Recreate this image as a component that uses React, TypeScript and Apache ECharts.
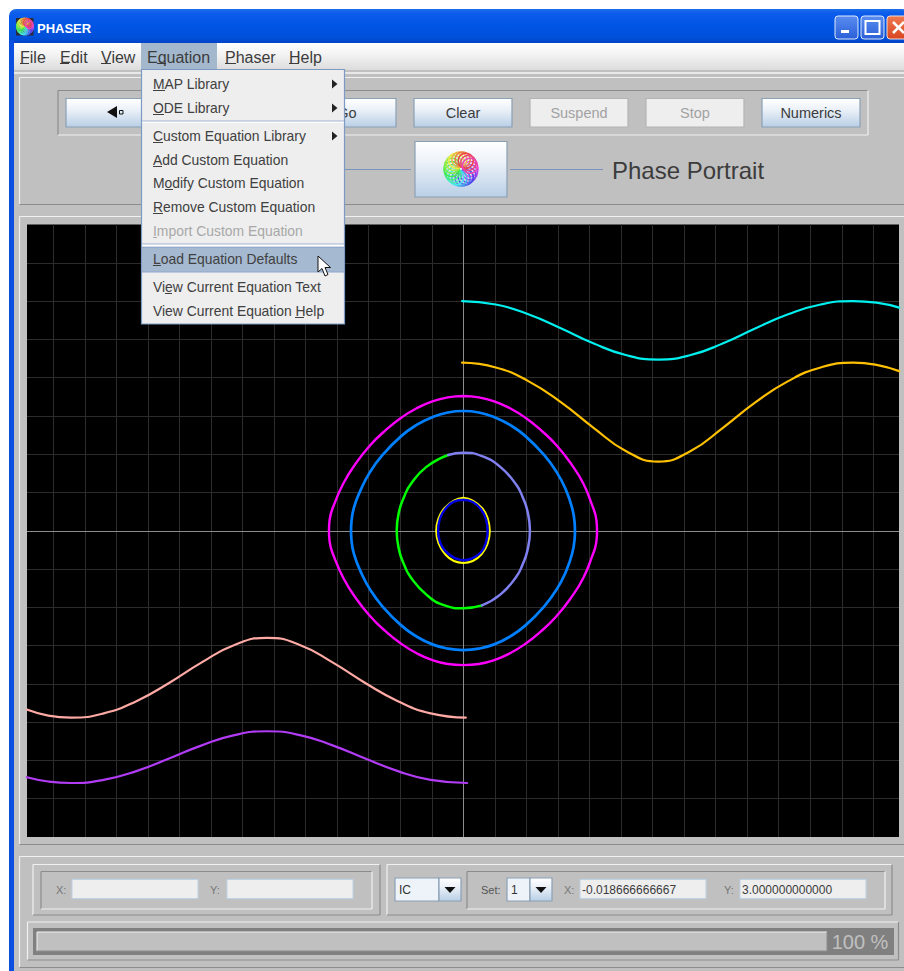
import React, { useEffect, useRef } from "react";
import * as echarts from "echarts";

// ---- phase-plane grid values ----
const gridX = [-6.5, -6, -5.5, -5, -4.5, -4, -3.5, -3, -2.5, -2, -1.5, -1, -0.5, 0.5, 1, 1.5, 2, 2.5, 3, 3.5, 4, 4.5, 5, 5.5, 6, 6.5];
const gridY = [-3.5, -3, -2.5, -2, -1.5, -1, -0.5, 0.5, 1, 1.5, 2, 2.5, 3, 3.5];

// ---- trajectories ----
const cyanCurve = [[-0.02, 3], [0.515, 2.955], [1.03, 2.828], [1.545, 2.646], [2.06, 2.449], [2.575, 2.295], [3.09, 2.236], [3.605, 2.295], [4.12, 2.449], [4.635, 2.646], [5.15, 2.828], [5.665, 2.955], [6.18, 3], [6.55, 2.979], [6.91, 2.915]];
const orangeCurve = [[-0.02, 2.195], [0.515, 2.133], [1.03, 1.954], [1.545, 1.679], [2.06, 1.348], [2.575, 1.042], [3.09, 0.904], [3.605, 1.042], [4.12, 1.348], [4.635, 1.679], [5.15, 1.954], [5.665, 2.133], [6.18, 2.195], [6.55, 2.166], [6.91, 2.085]];
const pinkCurve = [[0.04, -2.44], [-0.518, -2.385], [-1.037, -2.226], [-1.555, -1.988], [-2.073, -1.719], [-2.592, -1.491], [-3.11, -1.398], [-3.628, -1.491], [-4.147, -1.719], [-4.665, -1.988], [-5.183, -2.226], [-5.702, -2.385], [-6.22, -2.44], [-6.58, -2.414], [-6.92, -2.335]];
const purpleCurve = [[0.06, -3.295], [-0.518, -3.254], [-1.037, -3.14], [-1.555, -2.976], [-2.073, -2.803], [-2.592, -2.669], [-3.11, -2.619], [-3.628, -2.669], [-4.147, -2.803], [-4.665, -2.976], [-5.183, -3.14], [-5.702, -3.254], [-6.22, -3.295], [-6.58, -3.275], [-6.92, -3.219]];
const magentaOrbit = [[0, 1.76], [0.246, 1.742], [0.49, 1.69], [0.74, 1.6], [0.985, 1.476], [1.23, 1.315], [1.48, 1.113], [1.72, 0.861], [1.9, 0.62], [2.03, 0.36], [2.11, 0.14], [2.12, 0], [2.11, -0.14], [2.03, -0.36], [1.9, -0.62], [1.72, -0.861], [1.48, -1.113], [1.23, -1.315], [0.985, -1.476], [0.74, -1.6], [0.49, -1.69], [0.246, -1.74], [0, -1.755], [-0.246, -1.74], [-0.49, -1.69], [-0.74, -1.6], [-0.985, -1.476], [-1.23, -1.315], [-1.48, -1.113], [-1.72, -0.861], [-1.9, -0.62], [-2.04, -0.36], [-2.12, -0.14], [-2.13, 0], [-2.12, 0.14], [-2.04, 0.36], [-1.9, 0.62], [-1.72, 0.861], [-1.48, 1.113], [-1.23, 1.315], [-0.985, 1.476], [-0.74, 1.6], [-0.49, 1.69], [-0.246, 1.742], [0, 1.76]];
const blueOrbit = [[0, 1.564], [0.245, 1.545], [0.49, 1.484], [0.74, 1.382], [0.985, 1.236], [1.28, 0.99], [1.48, 0.766], [1.625, 0.537], [1.725, 0.3], [1.765, 0.1], [1.77, 0], [1.765, -0.1], [1.725, -0.3], [1.625, -0.537], [1.48, -0.766], [1.28, -0.99], [0.985, -1.236], [0.74, -1.382], [0.49, -1.484], [0.245, -1.54], [0, -1.558], [-0.245, -1.54], [-0.49, -1.484], [-0.74, -1.382], [-0.985, -1.236], [-1.28, -0.99], [-1.48, -0.766], [-1.625, -0.537], [-1.735, -0.3], [-1.775, -0.1], [-1.78, 0], [-1.775, 0.1], [-1.735, 0.3], [-1.625, 0.537], [-1.48, 0.766], [-1.28, 0.99], [-0.985, 1.236], [-0.74, 1.382], [-0.49, 1.484], [-0.245, 1.545], [0, 1.564]];
const greenArc = [[-0.24, 0.99], [-0.59, 0.831], [-0.84, 0.6], [-0.935, 0.45], [-1.015, 0.263], [-1.056, 0], [-1.015, -0.263], [-0.935, -0.45], [-0.84, -0.6], [-0.59, -0.831], [-0.295, -0.975], [0, -1.013], [0.295, -0.975]];
const periwinkleArc = [[-0.24, 0.99], [0, 1.02], [0.295, 0.975], [0.59, 0.831], [0.84, 0.6], [0.935, 0.45], [1.015, 0.263], [1.056, 0], [1.015, -0.263], [0.935, -0.45], [0.84, -0.6], [0.59, -0.831], [0.295, -0.975]];
const yellowOrbit = [[0, 0.43], [0.15, 0.395], [0.3, 0.295], [0.385, 0.17], [0.42, 0], [0.385, -0.17], [0.3, -0.295], [0.15, -0.395], [0, -0.42], [-0.15, -0.395], [-0.3, -0.295], [-0.39, -0.17], [-0.43, 0], [-0.39, 0.17], [-0.3, 0.295], [-0.15, 0.395], [0, 0.43]];
const navyOrbit = [[0, 0.405], [0.15, 0.375], [0.28, 0.28], [0.36, 0.15], [0.385, 0], [0.36, -0.15], [0.28, -0.28], [0.14, -0.36], [0, -0.385], [-0.14, -0.355], [-0.28, -0.27], [-0.37, -0.15], [-0.4, 0], [-0.37, 0.16], [-0.28, 0.29], [-0.15, 0.38], [0, 0.405]];

// ---- interface texts ----
const menuBar = [["File", 20, 9], ["Edit", 60, 9], ["View", 101, 10], ["Equation", 147, 0], ["Phaser", 225, 11], ["Help", 289, 10]];
const toolButtons = [["Clear", 414, true], ["Suspend", 530, false], ["Stop", 646, false], ["Numerics", 762, true]];
const menuItems = [
  ["MAP Library", 84, 153, 12, true, true],
  ["ODE Library", 108, 153, 11, true, true],
  ["Custom Equation Library", 136, 153, 10, true, true],
  ["Add Custom Equation", 160, 153, 9, false, true],
  ["Modify Custom Equation", 183, 165, 8, false, true],
  ["Remove Custom Equation", 207, 153, 10, false, true],
  ["Import Custom Equation", 231, 153, 4, false, false],
  ["Load Equation Defaults", 259, 153, 8, false, true],
  ["View Current Equation Text", 287, 165, 7, false, true],
  ["View Current Equation Help", 311, 295, 9, false, true],
];

const FONT = '"Liberation Sans", Arial, sans-serif';
const GREY = "#c0c0c0";

function rect(x, y, w, h, fill, stroke, z, r = 0, lw = 1) {
  return { type: "rect", z, silent: true, shape: { x, y, width: w, height: h, r }, style: { fill: fill ?? "none", stroke: stroke ?? "none", lineWidth: lw } };
}
function line(x1, y1, x2, y2, stroke, z, lw = 1) {
  return { type: "line", z, silent: true, shape: { x1, y1, x2, y2 }, style: { stroke, lineWidth: lw } };
}
function text(t, x, y, size, fill, z, weight = "normal", align = "left") {
  return { type: "text", z, silent: true, style: { text: t, x, y, fill, font: `${weight} ${size}px ${FONT}`, align, verticalAlign: "middle" } };
}
function poly(points, fill, stroke, z, lw = 1) {
  return { type: "polygon", z, silent: true, shape: { points }, style: { fill, stroke: stroke ?? "none", lineWidth: lw } };
}
function etched(x, y, w, h, z, invert = false) {
  const a = invert ? "#8c8c8c" : "#f0f0f0";
  const b = invert ? "#f0f0f0" : "#8c8c8c";
  return [line(x, y, x + w, y, a, z, 1.2), line(x, y, x, y + h, a, z, 1.2), line(x, y + h, x + w, y + h, b, z, 1.2), line(x + w, y, x + w, y + h, b, z, 1.2)];
}
function vgrad(stops) {
  return new echarts.graphic.LinearGradient(0, 0, 0, 1, stops.map(([offset, color]) => ({ offset, color })));
}
const btnFill = () => vgrad([[0, "#ffffff"], [0.35, "#eef3f9"], [1, "#b9cfe6"]]);
function logo(cx, cy, r, z) {
  const out = [];
  const n = 18;
  for (let i = 0; i < n; i++) {
    const a = (i / n) * Math.PI * 2;
    out.push({
      type: "circle", z, silent: true,
      shape: { cx: cx + Math.cos(a) * r * 0.56, cy: cy + Math.sin(a) * r * 0.56, r: r * 0.44 },
      style: { fill: "none", stroke: `hsl(${(300 - (i / n) * 360 + 360) % 360}, 80%, 60%)`, lineWidth: r > 12 ? 1.6 : 1.3 },
    });
  }
  return out;
}
function combo(x, w, arrowX, label, z) {
  return [
    rect(x, 878, arrowX - x, 23, "#eef3f9", "#8aa0b5", z, 0, 1.2),
    rect(arrowX, 878, x + w - arrowX, 23, btnFill(), "#8aa0b5", z, 0, 1.2),
    poly([[arrowX + 5.5, 887], [arrowX + 16.5, 887], [arrowX + 11, 893]], "#111", null, z + 1),
    text(label, x + 4, 890, 12, "#333", z + 1),
  ];
}
function field(x, w, z) {
  return rect(x, 879.5, w, 19, "#eeeeee", "#bcd2e6", z, 0, 1);
}

function chrome() {
  const els = [];
  const push = (...a) => els.push(...a);
  // window frame
  push(rect(9, 9, 900, 34, new echarts.graphic.LinearGradient(0, 0, 0, 1, [
    { offset: 0, color: "#1b70ea" }, { offset: 0.12, color: "#0d5cec" }, { offset: 0.5, color: "#0055e5" }, { offset: 0.85, color: "#0050d8" }, { offset: 1, color: "#0044c8" },
  ]), null, 1, [7, 7, 0, 0]));
  push(rect(9, 40, 5, 931, "#0b4fe0", null, 1));
  push(rect(14, 43, 890, 928, GREY, null, 1));
  push(rect(16, 18, 17.5, 17.5, "#2a2a3a", null, 2));
  push(...logo(25, 26.5, 8.5, 2));
  push(text("PHASER", 37, 28, 13, "#ffffff", 3, "bold"));
  // caption buttons
  push(rect(835, 16, 23, 23, vgrad([[0, "#5a8df0"], [1, "#2a5fd8"]]), "#dfe8fa", 3, 3));
  push(rect(841, 30, 8, 3, "#ffffff", null, 4));
  push(rect(861, 16, 23, 23, vgrad([[0, "#5a8df0"], [1, "#2a5fd8"]]), "#dfe8fa", 3, 3));
  push(rect(865.5, 21, 14, 13, "none", "#ffffff", 4, 0, 2));
  push(rect(887, 16, 23, 23, vgrad([[0, "#ef7a50"], [1, "#d8451f"]]), "#f4dcd4", 3, 3));
  push(line(893, 22, 904, 33, "#ffffff", 4, 2.5), line(904, 22, 893, 33, "#ffffff", 4, 2.5));
  // menu bar
  push(rect(14, 43, 890, 27, vgrad([[0, "#ffffff"], [0.45, "#f2f2f2"], [1, "#dcdcdc"]]), null, 2));
  push(line(14, 73, 904, 73, "#f6f6f6", 2, 1.5));
  push(rect(141, 43, 76, 26, "#a3b8cc", null, 3));
  menuBar.forEach(([t, x, u]) => {
    push(text(t, x, 57, 16, "#3c3c3c", 4));
    if (u) push(line(x, 63.5, x + u, 63.5, "#3c3c3c", 4));
  });
  push(line(157, 63.5, 166, 63.5, "#3c3c3c", 4));

  // toolbar panel
  push(line(19.5, 77.5, 904, 77.5, "#f0f0f0", 2, 1.2), line(19.5, 77.5, 19.5, 204.5, "#f0f0f0", 2, 1.2), line(19.5, 204.5, 904, 204.5, "#8c8c8c", 2, 1.2));
  push(...etched(58, 90.5, 810, 44.5, 2, true));
  const btn = (x, active) => rect(x, 98.5, 98, 28.5, active ? btnFill() : "#eeeeee", active ? "#8aa0b5" : "#b4b4b4", 3, 0, 1.2);
  push(btn(66, true), btn(182, true), btn(298, true));
  push(poly([[107, 112], [117, 106], [117, 118]], "#111", null, 4), rect(119.5, 110.5, 3.5, 3.5, "none", "#111", 4));
  push(text("Go", 347, 113, 14.5, "#3c3c3c", 4, "normal", "center"));
  toolButtons.forEach(([t, x, on]) => {
    push(btn(x, on));
    push(text(t, x + 49, 113, 14.5, on ? "#3c3c3c" : "#a2a2a2", 4, "normal", "center"));
  });
  push(rect(415, 141.5, 92, 55.5, btnFill(), "#8aa0b5", 3, 0, 1.2));
  push(...logo(461, 169, 17, 4));
  push(line(344, 169.5, 411, 169.5, "#7a93bc", 3), line(510, 169.5, 603, 169.5, "#7a93bc", 3));
  push(text("Phase Portrait", 612, 170.5, 24, "#3c3c3c", 4));

  // plot panel
  push(line(19.5, 216.5, 904, 216.5, "#f0f0f0", 2, 1.2), line(19.5, 216.5, 19.5, 844.5, "#f0f0f0", 2, 1.2), line(19.5, 844.5, 904, 844.5, "#8c8c8c", 2, 1.2));

  // lower panel
  push(line(19.5, 856.5, 904, 856.5, "#f0f0f0", 2, 1.2), line(19.5, 856.5, 19.5, 967.5, "#f0f0f0", 2, 1.2), line(19.5, 967.5, 904, 967.5, "#8c8c8c", 2, 1.2));
  push(...etched(33, 864.5, 347, 50.5, 2), ...etched(41, 871.5, 331, 37.5, 2, true));
  push(...etched(387, 864.5, 505, 50.5, 2), ...etched(467, 871.5, 418, 37.5, 2, true));
  push(text("X:", 56, 890, 11, "#777777", 3), field(72, 126, 3));
  push(text("Y:", 210, 890, 11, "#777777", 3), field(227, 126, 3));
  push(...combo(395, 66, 439, "IC", 3));
  push(text("Set:", 481, 890, 11, "#555555", 3));
  push(...combo(507, 45, 530, "1", 3));
  push(text("X:", 564, 890, 11, "#777777", 3), field(580, 126, 3), text("-0.018666666667", 582, 889.5, 12, "#3c3c3c", 4));
  push(text("Y:", 724, 890, 11, "#777777", 3), field(740, 126, 3), text("3.000000000000", 742, 889.5, 12, "#3c3c3c", 4));

  // progress bar
  push(...etched(27.5, 922, 871, 38, 2));
  push(rect(33, 928, 861, 27, "#808080", null, 3));
  push(rect(37, 932, 790, 19, GREY, null, 4));
  push(line(37, 932, 827, 932, "#f0f0f0", 5), line(37, 932, 37, 951, "#f0f0f0", 5), line(37, 951, 827, 951, "#8c8c8c", 5), line(827, 932, 827, 951, "#8c8c8c", 5));
  push(text("100 %", 860, 942, 20, GREY, 5, "normal", "center"));

  // Equation drop-down menu
  const M = 100;
  push(rect(141.5, 69.5, 203, 254.5, "#eeeeee", "#7d9ac4", M, 0, 1.2));
  push(line(142, 121, 344, 121, "#9fb3d6", M + 1), line(142, 122.3, 344, 122.3, "#ffffff", M + 1));
  push(line(142, 244, 344, 244, "#9fb3d6", M + 1), line(142, 245.3, 344, 245.3, "#ffffff", M + 1));
  push(rect(142, 247, 202, 25, "#a5b9d0", null, M + 1));
  push(line(142, 247.3, 344, 247.3, "#8ea6cc", M + 2), line(142, 272, 344, 272, "#8ea6cc", M + 2));
  menuItems.forEach(([t, y, ux, uw, arrow, on]) => {
    const col = on ? "#404040" : "#a8a8a8";
    push(text(t, 153, y, 13.9, col, M + 3));
    push(line(ux, y + 6.5, ux + uw, y + 6.5, col, M + 3));
    if (arrow) push(poly([[332, y - 4.5], [337.5, y], [332, y + 4.5]], "#222", null, M + 3));
  });
  // mouse pointer
  push(poly([[318, 256], [318, 272], [322, 268.5], [325, 276], [328, 274.5], [325, 267.5], [330.5, 267.5]], "#ffffff", "#111111", M + 5, 1));
  return els;
}

export default function App() {
  const ref = useRef(null);
  useEffect(() => {
    document.body.style.margin = "0";
    document.body.style.overflow = "hidden";
    const chart = echarts.init(ref.current, null, { renderer: "svg" });
    const curve = (name, data, color, width = 2.2, z = 6) => ({
      name, type: "line", data, z, symbol: "none", showSymbol: false, smooth: 0.5, silent: true,
      lineStyle: { color, width, cap: "round", join: "round" },
    });
    const gridSeries = (name, marks, color, z) => ({
      name, type: "line", data: [], z, silent: true, symbol: "none",
      markLine: { silent: true, symbol: "none", animation: false, label: { show: false }, lineStyle: { color, width: 1, type: "solid" }, data: marks },
    });
    chart.setOption({
      animation: false,
      backgroundColor: "#ffffff",
      grid: { left: 27, top: 224.5, width: 872, height: 612.5, show: true, backgroundColor: "#000000", borderWidth: 0, z: 2 },
      xAxis: { type: "value", min: -6.917, max: 6.907, show: false, splitLine: { show: false } },
      yAxis: { type: "value", min: -4, max: 4, show: false, splitLine: { show: false } },
      graphic: { elements: chrome() },
      series: [
        gridSeries("gridV", gridX.map((xAxis) => ({ xAxis })), "#2c2c2c", 3),
        gridSeries("gridH", gridY.map((yAxis) => ({ yAxis })), "#2c2c2c", 3),
        gridSeries("axes", [{ xAxis: 0 }, { yAxis: 0 }], "#8c8c8c", 4),
        curve("cyan", cyanCurve, "#00f0f0", 2.2, 6),
        curve("orange", orangeCurve, "#ffc000", 2.2, 6),
        curve("pink", pinkCurve, "#ffaaa5", 2.2, 6),
        curve("purple", purpleCurve, "#b23cf5", 2.2, 6),
        curve("magenta", magentaOrbit, "#ff00ff", 2.4, 6),
        curve("blue", blueOrbit, "#0080ff", 2.7, 6),
        curve("green", greenArc, "#00ff00", 2.5, 6),
        curve("periwinkle", periwinkleArc, "#8080f0", 2.5, 7),
        curve("yellow", yellowOrbit, "#ffff00", 2, 6),
        curve("navy", navyOrbit, "#0000e6", 2.4, 7),
      ],
    });
    return () => chart.dispose();
  }, []);
  return <div ref={ref} style={{ position: "absolute", left: 0, top: 0, width: 904, height: 971 }} />;
}
